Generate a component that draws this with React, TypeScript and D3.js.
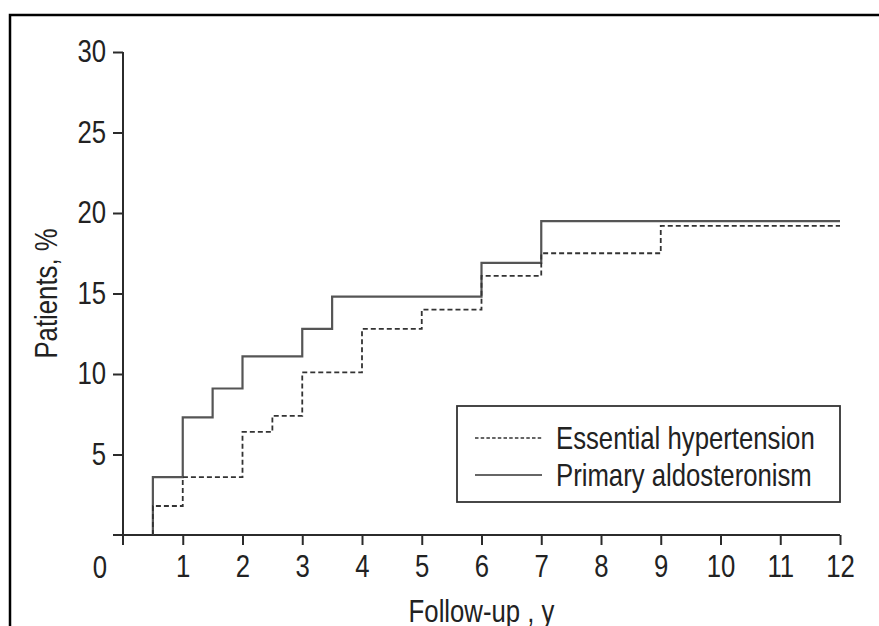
import React, { useEffect, useRef } from 'react';
import * as d3 from 'd3';

// Kaplan-Meier style cumulative incidence
const xTicks = [0, 1, 2, 3, 4, 5, 6, 7, 8, 9, 10, 11, 12];
const yTicks = [5, 10, 15, 20, 25, 30];

const paTimes = [0.5, 0.5, 1, 1.5, 2, 3, 3.5, 6, 7, 12];
const paValues = [0, 3.6, 7.3, 9.1, 11.1, 12.8, 14.8, 16.9, 19.5, 19.5];

const ehTimes = [0.5, 0.5, 1, 2, 2.5, 3, 4, 5, 6, 7, 9, 12];
const ehValues = [0, 1.8, 3.6, 6.4, 7.4, 10.1, 12.8, 14.0, 16.1, 17.5, 19.2, 19.2];

const seriesNames = ['Essential hypertension', 'Primary aldosteronism'];

// no narrow font installed, so squeeze Liberation Sans horizontally
const FONT = '"Liberation Sans", Arial, sans-serif';
const SQ = 0.83;
const AXIS = '#2b2b2b';
const INK = '#222';

type Pt = { t: number; v: number };

const App: React.FC = () => {
  const svgRef = useRef<SVGSVGElement>(null);

  useEffect(() => {
    if (!svgRef.current) return;
    const W = 879;
    const H = 626;

    const svg = d3.select(svgRef.current);
    svg.selectAll('*').remove();
    svg.attr('width', W).attr('height', H);

    svg.append('rect').attr('width', W).attr('height', H).attr('fill', '#fff');

    // outer frame (only top and left visible)
    svg.append('path')
      .attr('d', `M10,${H} L10,15 L${W},15`)
      .attr('fill', 'none')
      .attr('stroke', '#000')
      .attr('stroke-width', 2.5);

    const x = d3.scaleLinear().domain([0, 12]).range([123, 840]);
    const y = d3.scaleLinear().domain([0, 30]).range([535, 52]);

    const label = (px: number, py: number, txt: string, anchor = 'start', rot = 0) =>
      svg.append('text')
        .attr('transform', `translate(${px},${py}) rotate(${rot}) scale(${SQ},1)`)
        .attr('text-anchor', anchor)
        .attr('fill', INK)
        .style('font-family', FONT)
        .style('font-size', '31px')
        .text(txt);

    // y axis
    const yAxis = svg.append('g')
      .attr('transform', `translate(${x(0)},0)`)
      .call(d3.axisLeft(y).tickValues(yTicks).tickSize(10).tickPadding(10.5).tickSizeOuter(0));
    yAxis.select('.domain').remove();
    yAxis.selectAll('.tick line').attr('stroke', AXIS).attr('stroke-width', 2);
    yAxis.selectAll('text')
      .attr('fill', INK)
      .attr('transform', `scale(${SQ},1)`)
      .style('font-family', FONT)
      .style('font-size', '31px');

    svg.append('line')
      .attr('x1', x(0)).attr('x2', x(0))
      .attr('y1', y(30)).attr('y2', y(0) + 10)
      .attr('stroke', AXIS).attr('stroke-width', 2);

    // x axis
    const xAxis = svg.append('g')
      .attr('transform', `translate(0,${y(0)})`)
      .call(d3.axisBottom(x).tickValues(xTicks.slice(1)).tickSize(10).tickPadding(10).tickSizeOuter(0));
    xAxis.select('.domain').remove();
    xAxis.selectAll('.tick line').attr('stroke', AXIS).attr('stroke-width', 2);
    xAxis.selectAll('text')
      .attr('fill', INK)
      .attr('transform', `scale(${SQ},1)`)
      .style('font-family', FONT)
      .style('font-size', '31px');

    svg.append('line')
      .attr('x1', x(0) - 10).attr('x2', x(12))
      .attr('y1', y(0)).attr('y2', y(0))
      .attr('stroke', AXIS).attr('stroke-width', 2);

    // the "0" label sits left of the y axis
    label(x(xTicks[0]) - 23, 578, String(xTicks[0]), 'middle');

    // axis titles
    label(57, (y(0) + y(30)) / 2, 'Patients, %', 'middle', -90);
    label((x(0) + x(12)) / 2, 622, 'Follow-up , y', 'middle');

    // step curves
    const line = d3.line<Pt>()
      .x(d => x(d.t))
      .y(d => y(d.v))
      .curve(d3.curveStepAfter);

    const eh: Pt[] = ehTimes.map((t, i) => ({ t, v: ehValues[i] }));
    const pa: Pt[] = paTimes.map((t, i) => ({ t, v: paValues[i] }));

    svg.append('path')
      .datum(pa)
      .attr('fill', 'none')
      .attr('stroke', '#555')
      .attr('stroke-width', 2.2)
      .attr('d', line);

    svg.append('path')
      .datum(eh)
      .attr('fill', 'none')
      .attr('stroke', '#333')
      .attr('stroke-width', 1.8)
      .attr('stroke-dasharray', '5,3')
      .attr('d', line);

    // legend
    svg.append('rect')
      .attr('x', 457).attr('y', 406)
      .attr('width', 383).attr('height', 96)
      .attr('fill', '#fff')
      .attr('stroke', '#333')
      .attr('stroke-width', 1.8);

    const rows = [
      { name: seriesNames[0], dash: '3.5,2.2', cy: 438 },
      { name: seriesNames[1], dash: null, cy: 475 },
    ];
    rows.forEach(r => {
      const ln = svg.append('line')
        .attr('x1', 475).attr('x2', 542)
        .attr('y1', r.cy).attr('y2', r.cy)
        .attr('stroke', '#333')
        .attr('stroke-width', 1.6);
      if (r.dash) ln.attr('stroke-dasharray', r.dash);
      label(556, r.cy + 11, r.name);
    });
  }, []);

  return (
    <div style={{ position: 'absolute', left: 0, top: 0 }}>
      <svg ref={svgRef} style={{ display: 'block' }}></svg>
    </div>
  );
};

export default App;
